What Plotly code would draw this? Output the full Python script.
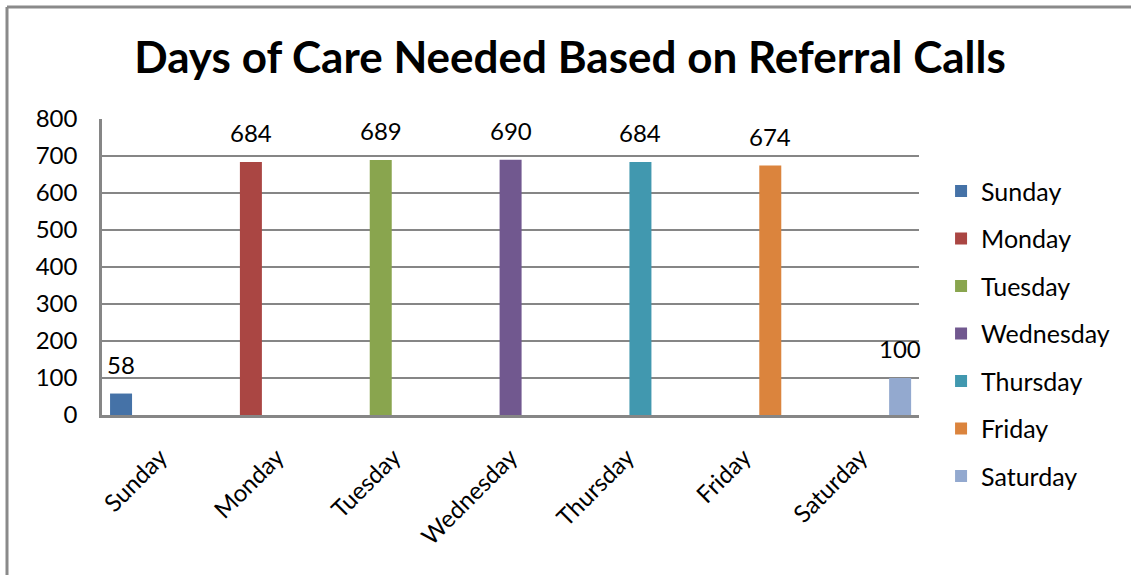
import plotly.graph_objects as go

days = ["Sunday", "Monday", "Tuesday", "Wednesday", "Thursday", "Friday", "Saturday"]
values = [58, 684, 689, 690, 684, 674, 100]
colors = ["#4572A7", "#AA4643", "#89A54E", "#71588F", "#4198AF", "#DB843D", "#93A9CF"]
y_ticks = [0, 100, 200, 300, 400, 500, 600, 700, 800]
title = "Days of Care Needed Based on Referral Calls"

FONT = "Lato"
fig = go.Figure()
slot = 0.1125
first_offset = -0.431
bar_w = 0.1885
for i, (d, v, c) in enumerate(zip(days, values, colors)):
    off = first_offset + i * slot
    fig.add_trace(go.Bar(
        x=[d], y=[v], name=d, marker=dict(color=c, line=dict(width=0)),
        offset=off, width=bar_w, legendgroup=d,
    ))
    fig.add_annotation(x=i + off + bar_w / 2, y=v, text=str(v), showarrow=False,
                       yanchor="bottom", yshift=13,
                       font=dict(family=FONT, size=24, color="black"))

fig.update_layout(
    barmode="overlay",
    width=1131, height=575,
    margin=dict(l=102, r=212, t=119, b=160, autoexpand=False),
    paper_bgcolor="white", plot_bgcolor="white",
    title=dict(text="<b>" + title + "</b>", x=0.504, xanchor="center",
               y=1 - 58 / 575, yanchor="middle",
               font=dict(family=FONT, size=44, color="black")),
    font=dict(family=FONT, size=24, color="black"),
    showlegend=True,
    legend=dict(x=1.027, xanchor="left", y=0.834, yanchor="top",
                font=dict(family=FONT, size=25, color="black"),
                tracegroupgap=12, itemwidth=30, bgcolor="rgba(0,0,0,0)",
                maxheight=560),
    xaxis=dict(categoryorder="array", categoryarray=days, tickangle=-45,
               showline=True, linecolor="#868686", linewidth=2.5,
               ticks="", showgrid=False, tickfont=dict(size=24),
               range=[-0.5, 6.5], ticklabelstandoff=16),
    yaxis=dict(range=[0, 800], tickvals=y_ticks, showgrid=True,
               gridcolor="#868686", gridwidth=2, showline=True,
               linecolor="#868686", linewidth=2.5, ticks="", zeroline=False,
               tickfont=dict(size=24), ticklabelstandoff=17),
)
# outer chart frame (top and left edges visible)
fig.add_shape(type="line", xref="paper", yref="paper",
              x0=-95 / 817, x1=1131 / 817, y0=(415 - 7) / 296, y1=(415 - 7) / 296,
              line=dict(color="#8a8a8a", width=3))
fig.add_shape(type="line", xref="paper", yref="paper",
              x0=-95 / 817, x1=-95 / 817, y0=(415 - 7) / 296, y1=-200 / 296,
              line=dict(color="#8a8a8a", width=3))

fig.write_html("out.html", post_script="document.body.style.margin='0px';",
               config={"displayModeBar": False})
